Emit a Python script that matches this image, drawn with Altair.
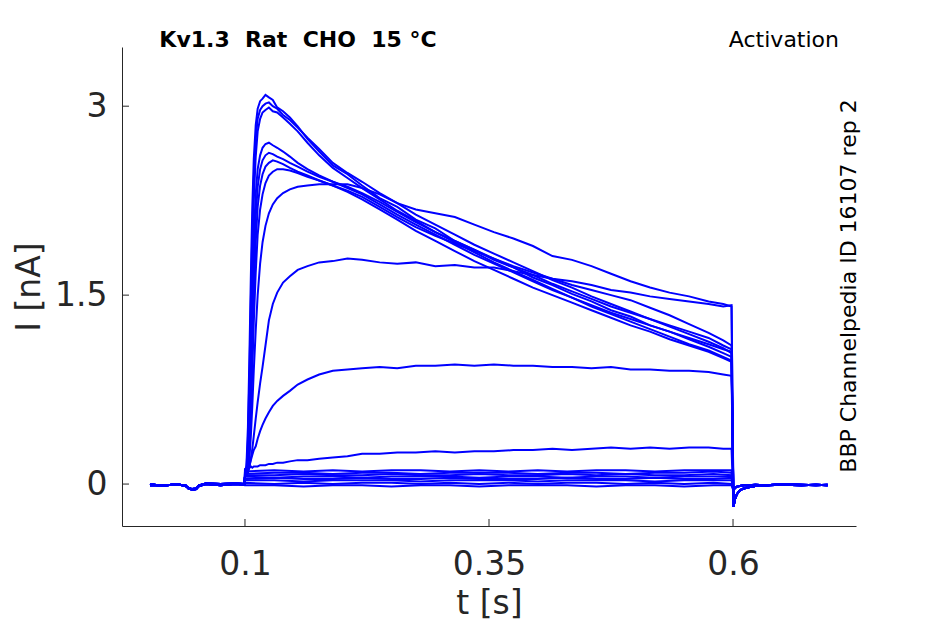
import altair as alt
import pandas as pd

# ---- text ----
title_text = "Kv1.3\u00a0 Rat\u00a0 CHO\u00a0 15 °C"
protocol_text = "Activation"
id_text = "BBP Channelpedia ID 16107 rep 2"
x_title = "t [s]"
y_title = "I [nA]"
tick_x = [0.1, 0.35, 0.6]
tick_y = [0, 1.5, 3]

# ---- baseline before the step (two slightly different copies) ----
pre_t = [0.0027, 0.015, 0.030, 0.039, 0.042, 0.046, 0.050, 0.053, 0.060, 0.075, 0.090, 0.0995]
pre_i_a = [-0.01, -0.01, -0.005, -0.01, -0.035, -0.045, -0.04, -0.01, 0.005, 0.00, 0.005, 0.00]
pre_i_b = [0.00, -0.015, 0.00, -0.015, -0.03, -0.04, -0.035, -0.015, 0.00, -0.01, 0.00, -0.005]

# ---- step times for the large currents ----
t_step = [0.1000, 0.1015, 0.1030, 0.1045, 0.1060, 0.1075, 0.1090, 0.1110, 0.1130, 0.1155,
          0.1180, 0.1210, 0.1245, 0.1285, 0.1330, 0.1390, 0.1460, 0.1540, 0.1640, 0.1760,
          0.1900, 0.2050, 0.2200, 0.2380, 0.2560, 0.2750, 0.2950, 0.3150, 0.3350, 0.3550,
          0.3750, 0.3950, 0.4150, 0.4350, 0.4550, 0.4750, 0.4950, 0.5150, 0.5350, 0.5550,
          0.5750, 0.5900, 0.5985]

trace_A = [0.06, 0.15, 0.45, 1.00, 1.65, 2.20, 2.58, 2.85, 2.98, 3.04,
           3.06, 3.09, 3.07, 3.05, 2.99, 2.96, 2.91, 2.84, 2.74, 2.64,
           2.53, 2.46, 2.37, 2.27, 2.20, 2.10, 2.03, 1.93, 1.86, 1.78,
           1.72, 1.64, 1.58, 1.51, 1.45, 1.38, 1.33, 1.26, 1.21, 1.15,
           1.09, 1.04, 1.01]
trace_B = [0.06, 0.12, 0.35, 0.85, 1.45, 2.00, 2.42, 2.74, 2.90, 2.97,
           3.00, 3.02, 3.03, 3.00, 2.98, 2.93, 2.89, 2.83, 2.75, 2.66,
           2.55, 2.47, 2.40, 2.31, 2.23, 2.14, 2.06, 1.98, 1.90, 1.83,
           1.76, 1.69, 1.62, 1.56, 1.49, 1.43, 1.37, 1.31, 1.25, 1.19,
           1.13, 1.08, 1.04]
trace_C = [0.06, 0.10, 0.28, 0.70, 1.25, 1.80, 2.25, 2.60, 2.80, 2.90,
           2.95, 2.97, 2.99, 2.96, 2.95, 2.91, 2.86, 2.80, 2.71, 2.61,
           2.51, 2.43, 2.35, 2.26, 2.17, 2.09, 2.00, 1.92, 1.84, 1.76,
           1.69, 1.62, 1.55, 1.48, 1.41, 1.35, 1.29, 1.23, 1.17, 1.11,
           1.06, 1.01, 0.98]
trace_D = [0.06, 0.09, 0.22, 0.55, 1.00, 1.50, 1.95, 2.30, 2.50, 2.61,
           2.67, 2.70, 2.71, 2.69, 2.67, 2.64, 2.60, 2.55, 2.50, 2.45,
           2.40, 2.35, 2.30, 2.22, 2.14, 2.06, 1.98, 1.90, 1.82, 1.75,
           1.68, 1.61, 1.54, 1.48, 1.42, 1.36, 1.31, 1.26, 1.21, 1.16,
           1.11, 1.07, 1.05]
trace_E = [0.06, 0.08, 0.18, 0.45, 0.85, 1.30, 1.75, 2.12, 2.36, 2.50,
           2.57, 2.61, 2.63, 2.62, 2.60, 2.58, 2.55, 2.52, 2.48, 2.44,
           2.40, 2.36, 2.31, 2.24, 2.16, 2.08, 2.00, 1.93, 1.86, 1.79,
           1.72, 1.66, 1.59, 1.53, 1.47, 1.41, 1.36, 1.31, 1.26, 1.21,
           1.16, 1.10, 1.07]
trace_F = [0.06, 0.07, 0.15, 0.36, 0.70, 1.10, 1.52, 1.92, 2.20, 2.37,
           2.46, 2.52, 2.55, 2.57, 2.56, 2.54, 2.51, 2.48, 2.45, 2.41,
           2.37, 2.32, 2.26, 2.18, 2.10, 2.01, 1.93, 1.85, 1.77, 1.70,
           1.63, 1.56, 1.50, 1.44, 1.38, 1.32, 1.26, 1.21, 1.15, 1.10,
           1.05, 1.00, 0.97]
trace_G = [0.06, 0.07, 0.12, 0.28, 0.55, 0.90, 1.28, 1.68, 1.98, 2.18,
           2.30, 2.39, 2.45, 2.48, 2.50, 2.50, 2.49, 2.47, 2.44, 2.41,
           2.37, 2.33, 2.28, 2.20, 2.12, 2.04, 1.97, 1.91, 1.85, 1.79,
           1.73, 1.68, 1.63, 1.58, 1.54, 1.50, 1.46, 1.40, 1.34, 1.27,
           1.20, 1.14, 1.10]
trace_H = [0.06, 0.07, 0.10, 0.20, 0.38, 0.62, 0.90, 1.22, 1.50, 1.75,
           1.92, 2.05, 2.15, 2.22, 2.27, 2.31, 2.34, 2.36, 2.37, 2.38,
           2.38, 2.38, 2.35, 2.30, 2.23, 2.18, 2.15, 2.12, 2.06, 2.00,
           1.95, 1.89, 1.81, 1.78, 1.73, 1.67, 1.61, 1.56, 1.52, 1.49,
           1.45, 1.43, 1.41]
trace_I = [0.06, 0.07, 0.09, 0.13, 0.20, 0.28, 0.38, 0.52, 0.65, 0.80,
           0.93, 1.10, 1.30, 1.43, 1.52, 1.60, 1.65, 1.70, 1.73, 1.76,
           1.77, 1.79, 1.78, 1.76, 1.75, 1.76, 1.73, 1.74, 1.72, 1.72,
           1.69, 1.66, 1.63, 1.61, 1.58, 1.54, 1.52, 1.49, 1.47, 1.45,
           1.43, 1.41, 1.42]
trace_J = [0.06, 0.08, 0.11, 0.15, 0.19, 0.23, 0.27, 0.30, 0.36, 0.42,
           0.47, 0.52, 0.57, 0.62, 0.66, 0.70, 0.74, 0.79, 0.83, 0.87,
           0.90, 0.91, 0.92, 0.93, 0.92, 0.94, 0.94, 0.95, 0.94, 0.95,
           0.94, 0.94, 0.93, 0.93, 0.92, 0.93, 0.91, 0.91, 0.90, 0.90,
           0.89, 0.87, 0.86]
trace_K = [0.12, 0.13, 0.13, 0.13, 0.14, 0.13, 0.14, 0.14, 0.14, 0.15,
           0.15, 0.15, 0.16, 0.16, 0.17, 0.17, 0.18, 0.19, 0.19, 0.20,
           0.21, 0.22, 0.24, 0.24, 0.25, 0.25, 0.26, 0.25, 0.26, 0.26,
           0.27, 0.27, 0.28, 0.27, 0.28, 0.29, 0.28, 0.29, 0.28, 0.29,
           0.29, 0.28, 0.28]

# ---- small currents (near zero during the step) ----
t_small = [0.1000, 0.130, 0.160, 0.190, 0.220, 0.250, 0.280, 0.310, 0.340,
           0.370, 0.400, 0.430, 0.460, 0.490, 0.520, 0.550, 0.580, 0.5985]
small_1 = [0.10, 0.11, 0.10, 0.11, 0.10, 0.11, 0.11, 0.10, 0.11, 0.10, 0.11, 0.10, 0.11, 0.11, 0.10, 0.11, 0.11, 0.11]
small_2 = [0.08, 0.09, 0.09, 0.08, 0.09, 0.09, 0.08, 0.09, 0.09, 0.09, 0.08, 0.09, 0.09, 0.08, 0.09, 0.09, 0.10, 0.09]
small_3 = [0.07, 0.07, 0.08, 0.07, 0.07, 0.08, 0.07, 0.07, 0.08, 0.07, 0.07, 0.08, 0.07, 0.08, 0.07, 0.07, 0.08, 0.07]
small_4 = [0.06, 0.05, 0.06, 0.06, 0.05, 0.06, 0.06, 0.06, 0.05, 0.06, 0.06, 0.05, 0.06, 0.06, 0.05, 0.06, 0.06, 0.06]
small_5 = [0.04, 0.05, 0.04, 0.04, 0.05, 0.04, 0.04, 0.05, 0.04, 0.04, 0.04, 0.05, 0.04, 0.04, 0.05, 0.04, 0.04, 0.05]
small_6 = [0.03, 0.03, 0.02, 0.03, 0.03, 0.03, 0.02, 0.03, 0.03, 0.03, 0.02, 0.03, 0.03, 0.03, 0.02, 0.03, 0.03, 0.03]
small_7 = [0.01, 0.00, 0.01, 0.00, 0.01, 0.01, 0.00, 0.01, 0.00, 0.01, 0.00, 0.01, 0.01, 0.00, 0.01, 0.00, 0.01, 0.00]
small_8 = [-0.01, -0.01, -0.02, -0.01, -0.01, -0.02, -0.01, -0.01, -0.02, -0.01, -0.01, -0.01, -0.02, -0.01, -0.01, -0.02, -0.01, -0.01]

# ---- tail after the step ----
tail_t = [0.6005, 0.6020, 0.6040, 0.6070, 0.6110, 0.6160, 0.6230, 0.6350, 0.6500, 0.6700, 0.6850, 0.6970]
tail_big = [-0.18, -0.12, -0.08, -0.05, -0.035, -0.025, -0.015, -0.01, -0.005, -0.01, -0.005, -0.01]
tail_small = [-0.05, -0.03, -0.02, -0.015, -0.01, -0.01, -0.005, -0.01, 0.0, -0.005, -0.01, -0.005]

big = {"A": trace_A, "B": trace_B, "C": trace_C, "D": trace_D, "E": trace_E, "F": trace_F,
       "G": trace_G, "H": trace_H, "I": trace_I, "J": trace_J, "K": trace_K}
small = {"s1": small_1, "s2": small_2, "s3": small_3, "s4": small_4,
         "s5": small_5, "s6": small_6, "s7": small_7, "s8": small_8}

rows = []
n = 0
for name, vals in big.items():
    pre = pre_i_a if n % 2 == 0 else pre_i_b
    ts = pre_t + t_step + tail_t
    vs = pre + vals + tail_big
    for k, (t, v) in enumerate(zip(ts, vs)):
        rows.append({"trace": name, "t": t, "i": v, "k": k})
    n += 1
for name, vals in small.items():
    pre = pre_i_a if n % 2 == 0 else pre_i_b
    ts = pre_t + t_small + tail_t
    vs = pre + vals + tail_small
    for k, (t, v) in enumerate(zip(ts, vs)):
        rows.append({"trace": name, "t": t, "i": v, "k": k})
    n += 1
df = pd.DataFrame(rows)

W, H = 734, 479
FONT = "DejaVu Sans"
AX = "#262626"

xscale = alt.Scale(domain=[-0.026, 0.726], nice=False, zero=False)
yscale = alt.Scale(domain=[-0.333, 3.47], nice=False, zero=False)
xaxis = alt.Axis(values=tick_x, labelExpr="'' + datum.value", title=x_title,
                 labelPadding=22, titlePadding=6)
yaxis = alt.Axis(values=tick_y, labelExpr="'' + datum.value", title=y_title,
                 labelPadding=15, titlePadding=8)

lines = alt.Chart(df).mark_line(color="#0000ff", strokeWidth=2, clip=True).encode(
    x=alt.X("t:Q", scale=xscale, axis=xaxis),
    y=alt.Y("i:Q", scale=yscale, axis=yaxis),
    detail="trace:N",
    order="k:Q",
)

xt = alt.Chart(pd.DataFrame({"t": tick_x})).mark_rule(color=AX, strokeWidth=1).encode(
    x=alt.X("t:Q", scale=xscale, axis=xaxis),
    y=alt.value(H), y2=alt.value(H - 7))
yt = alt.Chart(pd.DataFrame({"i": tick_y})).mark_rule(color=AX, strokeWidth=1).encode(
    y=alt.Y("i:Q", scale=yscale, axis=yaxis),
    x=alt.value(0), x2=alt.value(7))

t1 = alt.Chart(pd.DataFrame({"s": [title_text]})).mark_text(
    font=FONT, fontSize=22, fontWeight="bold", color="black", align="center",
    baseline="alphabetic").encode(text="s:N", x=alt.value(176), y=alt.value(0))
t2 = alt.Chart(pd.DataFrame({"s": [protocol_text]})).mark_text(
    font=FONT, fontSize=22, color="black", align="right",
    baseline="alphabetic").encode(text="s:N", x=alt.value(717), y=alt.value(0))
t3 = alt.Chart(pd.DataFrame({"s": [id_text]})).mark_text(
    font=FONT, fontSize=22, color="black", align="center", angle=270,
    baseline="alphabetic").encode(text="s:N", x=alt.value(734), y=alt.value(239))

chart = alt.layer(lines, xt, yt, t1, t2, t3).properties(
    width=W, height=H,
    autosize=alt.AutoSizeParams(type="none"),
    padding={"left": 114, "top": 39, "right": 60, "bottom": 96},
    background="white",
).configure_view(stroke=None).configure_axis(
    grid=False, ticks=False, tickSize=0, domainColor=AX, domainWidth=1,
    labelFont=FONT, labelFontSize=33, labelColor=AX,
    titleFont=FONT, titleFontSize=33, titleColor=AX, titleFontWeight="normal",
)

chart.save("out.html", embed_options={"renderer": "svg", "actions": False})
